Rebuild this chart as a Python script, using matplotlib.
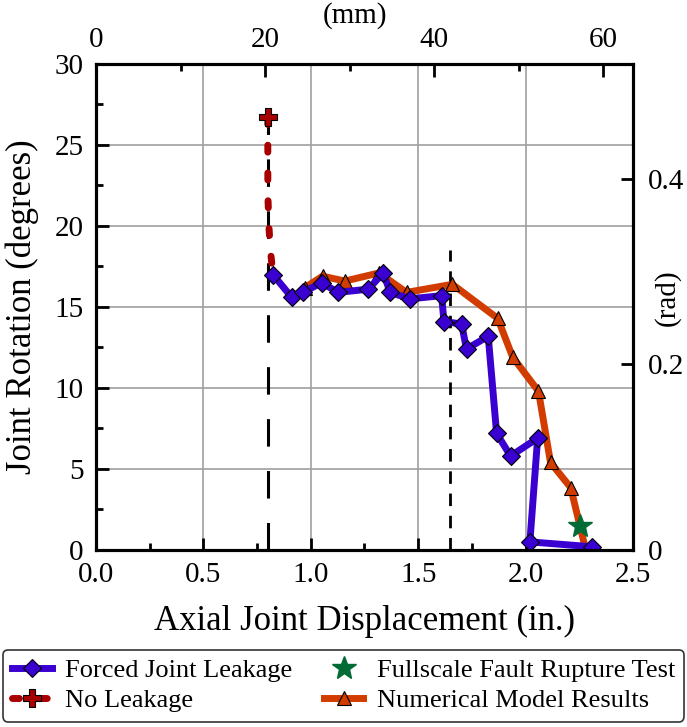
import numpy as np
import matplotlib
matplotlib.use("Agg")
import matplotlib.pyplot as plt
from matplotlib.ticker import MultipleLocator, FixedLocator, FixedFormatter

plt.rcParams['font.family'] = ['Liberation Serif', 'DejaVu Serif']

# Forced joint leakage (in., degrees)
leak_x = [0.824, 0.911, 0.964, 1.05, 1.127, 1.268, 1.337, 1.37, 1.462, 1.609,
          1.62, 1.702, 1.725, 1.826, 1.865, 1.93, 2.056, 2.02, 2.307]
leak_y = [17.0, 15.6, 15.9, 16.5, 15.9, 16.1, 17.1, 15.9, 15.5, 15.7,
          14.1, 13.95, 12.4, 13.2, 7.2, 5.8, 6.9, 0.5, 0.2]

# No leakage
noleak_x = [0.800, 0.800, 0.805, 0.812, 0.824]
noleak_y = [26.7, 22.0, 20.0, 18.5, 17.0]

# Numerical model results
model_x = [0.973, 1.055, 1.159, 1.317, 1.446, 1.659, 1.87, 1.94, 2.06, 2.116, 2.21, 2.28]
model_y = [16.2, 16.9, 16.6, 17.1, 15.9, 16.4, 14.3, 11.9, 9.8, 5.4, 3.85, 0.0]

# Fullscale fault rupture test
test_x = [2.253]
test_y = [1.45]

# reference lines
ref1_x, ref1_top = 0.80, 26.7
ref2_x, ref2_top = 1.65, 18.5

blue = '#3a00d2'
orange = '#d23c00'
red = '#a80000'
green = '#006b35'

fig = plt.figure(figsize=(6.87, 7.27), dpi=100)
ax = fig.add_axes([0.1397, 0.2435, 0.7817, 0.6685])

ax.plot([ref1_x, ref1_x], [0, ref1_top], color='black', lw=2.2,
        linestyle=(0, (9, 8)), zorder=2)
ax.plot([ref2_x, ref2_x], [0, ref2_top], color='black', lw=2.0,
        linestyle=(0, (4.5, 3.5)), zorder=2)

l1, = ax.plot(leak_x, leak_y, color=blue, lw=5, marker='D', ms=9,
              mfc=blue, mec='black', mew=0.8, zorder=4,
              label='Forced Joint Leakage')
l2, = ax.plot(noleak_x, noleak_y, color=red, lw=5, linestyle=(0, (1.0, 3.0)),
              dash_capstyle='round', marker='P', ms=13, mfc=red, mec='black',
              mew=0.8, markevery=[0], zorder=3, label='No Leakage')
l4, = ax.plot(model_x, model_y, color=orange, lw=5, marker='^', ms=10,
              mfc=orange, mec='black', mew=0.8, zorder=3,
              label='Numerical Model Results')
l3, = ax.plot(test_x, test_y, linestyle='none', marker='*', ms=18,
              color=green, mec=green, zorder=5,
              label='Fullscale Fault Rupture Test')

ax.set_xlim(0, 2.5)
ax.set_ylim(0, 30)
ax.xaxis.set_major_locator(MultipleLocator(0.5))
ax.xaxis.set_minor_locator(MultipleLocator(0.25))
ax.yaxis.set_major_locator(MultipleLocator(5))
ax.yaxis.set_minor_locator(MultipleLocator(2.5))
ax.xaxis.set_major_formatter(plt.FuncFormatter(lambda v, p: '%.1f' % v))
ax.yaxis.set_major_formatter(plt.FuncFormatter(lambda v, p: '%d' % v))
ax.grid(True, which='major', color='#a0a0a0', lw=1.2)
ax.tick_params(which='both', direction='in', labelsize=21, width=2)
ax.tick_params(which='major', length=9)
ax.tick_params(which='minor', length=5)
ax.tick_params(axis='x', which='major', pad=9)
ax.tick_params(axis='y', which='major', pad=9)
ax.set_xlabel('Axial Joint Displacement (in.)', fontsize=25, labelpad=12)
ax.set_ylabel('Joint Rotation (degrees)', fontsize=25, labelpad=11)
for s in ax.spines.values():
    s.set_linewidth(2.2)

ax_top = ax.twiny()
ax_top.set_xlim(0, 2.5 * 25.4)
ax_top.xaxis.set_major_locator(MultipleLocator(20))
ax_top.xaxis.set_minor_locator(MultipleLocator(10))
ax_top.tick_params(which='both', direction='in', labelsize=21, width=2)
ax_top.tick_params(which='major', length=9, pad=8)
ax_top.tick_params(which='minor', length=5)
fig.text(0.517, 0.979, '(mm)', fontsize=21, ha='center', va='center')

ax_right = ax.twinx()
ax_right.set_ylim(0, np.deg2rad(30))
ax_right.yaxis.set_major_locator(FixedLocator([0, 0.2, 0.4]))
ax_right.yaxis.set_major_formatter(FixedFormatter(['0', '0.2', '0.4']))
ax_right.tick_params(which='both', direction='in', labelsize=21, width=2,
                     length=9, pad=11)
fig.text(0.971, 0.59, '(rad)', fontsize=21, ha='center', va='center',
         rotation=90)
for a in (ax_top, ax_right):
    for s in a.spines.values():
        s.set_linewidth(2.2)

leg = fig.legend(handles=[l1, l2, l3, l4], loc='lower center',
                 bbox_to_anchor=(0.5, 0.0), ncol=2, fontsize=19,
                 frameon=True, fancybox=True, edgecolor='black',
                 handlelength=1.5, handletextpad=0.5, columnspacing=1.2,
                 labelspacing=0.25, borderpad=0.35, borderaxespad=0.2)
leg.get_frame().set_linewidth(1.2)

fig.savefig('out.png', dpi=100)
